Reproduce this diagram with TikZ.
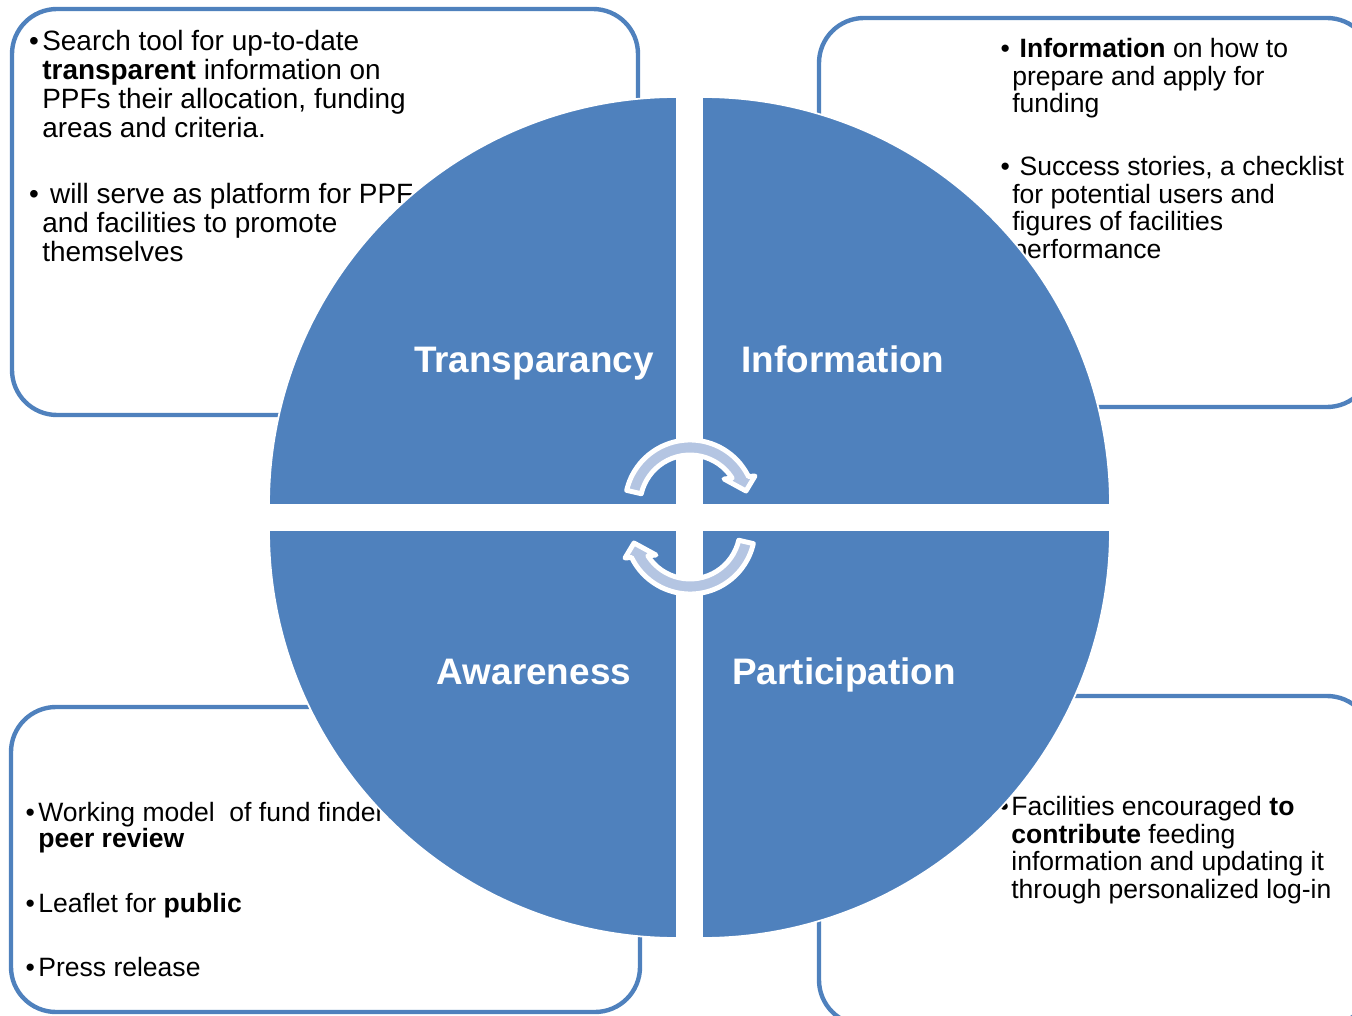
\documentclass[tikz,border=0pt]{standalone}
\usepackage{fontspec}
\setmainfont{Liberation Sans}
\definecolor{quadblue}{HTML}{4F81BD}
\definecolor{arrowfill}{RGB}{180,197,226}

\begin{document}
\begin{tikzpicture}[x=0.02cm,y=-0.02cm,
    infobox/.style={draw=quadblue,line width=2.5pt,fill=white,rounded corners=0.9cm},
    quad/.style={fill=quadblue,draw=white,line width=1pt},
    title/.style={anchor=base,text=white,font=\fontsize{21}{25}\selectfont\bfseries},
    bullets/.style={anchor=north west,align=left,inner sep=0pt,font=\fontsize{15.1}{15.7}\selectfont},
    band/.style={fill=arrowfill,draw=white,line width=2.8pt,line join=round}]
                \useasboundingbox (0,0) rectangle (1352,1016);
                \clip (0,0) rectangle (1352,1016);
                % text boxes behind the circle
                \draw[infobox] (12,9) rectangle (638,415);
                \draw[infobox] (819,18) rectangle (1372,407);
                \draw[infobox] (11,707) rectangle (640,1012);
                \draw[infobox] (819,696) rectangle (1372,1025);
                \node[bullets,font=\fontsize{15.9}{16.5}\selectfont] (search) at (42,30) {\llap{•\hspace{2pt}}Search tool for up-to-date\\\textbf{transparent} information on\\PPFs their allocation, funding\\areas and criteria.};
                \node[bullets,font=\fontsize{15.9}{16.5}\selectfont] (platform) at (42,183) {\llap{•\hspace{2pt}}\ will serve as platform for PPF\\and facilities to promote\\themselves};
                \node[bullets] (howto) at (1012,38) {\llap{•\hspace{1.4pt}}\ \textbf{Information} on how to\\prepare and apply for\\funding};
                \node[bullets] (stories) at (1012,156) {\llap{•\hspace{1.4pt}}\ Success stories, a checklist\\for potential users and\\figures of facilities\\performance};
                \node[bullets] (feeding) at (1011,796) {\llap{•\hspace{1.4pt}}Facilities encouraged \textbf{to}\\\textbf{contribute} feeding\\information and updating it\\through personalized log-in};
                \node[bullets,font=\fontsize{15.1}{14.8}\selectfont] (model) at (38,802) {\llap{•\hspace{2pt}}Working model\ \ of fund finder\\\textbf{peer review}};
                \node[bullets,font=\fontsize{15.1}{14.8}\selectfont] (leaflet) at (38,893) {\llap{•\hspace{2pt}}Leaflet for \textbf{public}};
                \node[bullets,font=\fontsize{15.1}{14.8}\selectfont] (press) at (38,957) {\llap{•\hspace{2pt}}Press release};
                % the four quarters
                \draw[quad] (677,505) -- (269,505) arc[start angle=180,end angle=270,radius=408] -- cycle;
                \draw[quad] (702,505) -- (702,97) arc[start angle=270,end angle=360,radius=408] -- cycle;
                \draw[quad] (702,530) -- (1110,530) arc[start angle=0,end angle=90,radius=408] -- cycle;
                \draw[quad] (677,530) -- (677,938) arc[start angle=90,end angle=180,radius=408] -- cycle;
                \node[title] (transp) at (534,373) {Transparancy};
                \node[title] (inform) at (843,373) {Information};
                \node[title] (aware) at (534,684) {Awareness};
                \node[title] (partic) at (844,684) {Participation};
                % cycle arrows
                \foreach \rot in {0,180}
                    \draw[band,rotate around={\rot:(690,517)}] ([shift={(690,505)}]193:65) arc[start angle=193,end angle=334,radius=65] -- (755,476) -- (746,491) -- (724,479) -- ([shift={(690,505)}]327.5:50) arc[start angle=327.5,end angle=193,radius=50] -- cycle;
            \end{tikzpicture}
\end{document}
